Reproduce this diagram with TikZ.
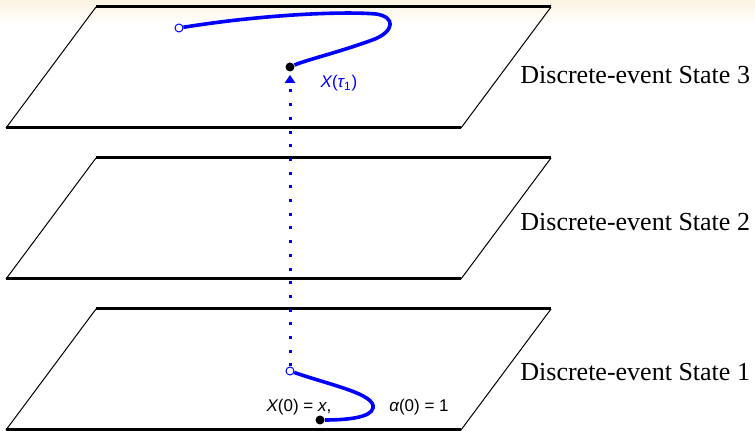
\documentclass[tikz,border=0pt]{standalone}
\usepackage{fontspec}
\setmainfont{Liberation Serif}
\newfontfamily\lblfont{Liberation Sans}
\usetikzlibrary{arrows.meta,positioning}
\definecolor{cream}{RGB}{252,244,226}
\tikzset{
  rim/.style   ={line width=1.5pt},
  side/.style  ={line width=0.5pt},
  traj/.style  ={blue, line width=1.8pt},
  jump/.style  ={blue, line width=1.5pt, dash pattern=on 1.5pt off 5.35pt,
                 -{Triangle[length=4pt,width=5pt]}, shorten >=1.5pt},
  open/.style  ={circle, draw=blue, fill=white, line width=0.5pt,
                 inner sep=0pt, minimum size=4pt},
  hit/.style   ={circle, fill=black, inner sep=0pt, minimum size=4.5pt},
  state/.style ={font=\fontsize{13}{15}\selectfont, anchor=west, inner sep=0pt},
  val/.style   ={font=\lblfont\fontsize{8.5}{10}\selectfont, inner sep=1pt},
}

\begin{document}
\begin{tikzpicture}[x=0.5pt, y=-0.5pt]
\useasboundingbox (0,0) rectangle (755,431);
\shade[top color=cream, bottom color=white] (0,0) rectangle (755,25);

% ---- the three planes ------------------------------------------------
\draw[rim] (96,7) -- (551,7);
\draw[rim] (6,128) -- (461,128);
\draw[side] (6,128) -- (96,7) (461,128) -- (551,7);

\draw[rim] (96,158) -- (551,158);
\draw[rim] (6,279) -- (461,279);
\draw[side] (6,279) -- (96,158) (461,279) -- (551,158);

\draw[rim] (96,309) -- (551,309);
\draw[rim] (6,430) -- (461,430);
\draw[side] (6,430) -- (96,309) (461,430) -- (551,309);

\node[state] (st3) at (520,75)  {Discrete-event State 3};
\node[state] (st2) at (520,222) {Discrete-event State 2};
\node[state] (st1) at (520,372) {Discrete-event State 1};

% ---- paths in state 3 and state 1 ------------------------------------
\node[open] (start3) at (179,28)  {};
\node[hit]  (hit3)   at (290,67)  {};
\node[open] (start1) at (290,371) {};
\node[hit]  (hit1)   at (320,420) {};

\draw[traj] (start3) .. controls (260,15) and (340,11) .. (376,14)
            .. controls (396,17) and (394,31) .. (375,39)
            .. controls (340,52) and (306,60) .. (hit3);
\draw[traj] (start1) .. controls (330,385) and (376,394) .. (373,408)
            .. controls (371,418) and (345,420) .. (hit1);

\draw[jump] (start1) -- (hit3);

\node[val, text=blue] (x3) at (339,83) {\itshape X\upshape(\itshape τ\upshape\textsubscript{1})};
\node[val] (x0) at (299,407) {\itshape X\upshape(0) = \itshape x\upshape,};
\node[val] (a0) at (419,407) {\itshape α\upshape(0) = 1};

\end{tikzpicture}
\end{document}
